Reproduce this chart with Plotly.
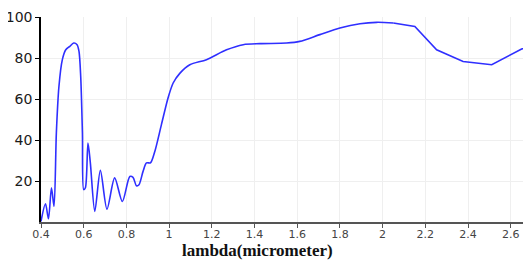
import plotly.graph_objects as go

# wavelength (micrometer) and transmission values
wl_smooth = [0.400, 0.421, 0.435, 0.449, 0.461, 0.472, 0.484, 0.500, 0.516, 0.535,
             0.553, 0.569, 0.578, 0.586, 0.594, 0.600, 0.608, 0.620, 0.631, 0.652,
             0.678, 0.709, 0.745, 0.781, 0.816, 0.831, 0.847, 0.859, 0.878, 0.894,
             0.913, 0.933, 0.964, 0.995, 1.019, 1.050, 1.097, 1.175, 1.269, 1.347,
             1.425, 1.550, 1.612, 1.706, 1.800, 1.894, 1.972, 2.050]
val_smooth = [0.3, 8.9, 1.6, 16.7, 7.6, 43.6, 66.1, 79.2, 84.0, 85.7,
              87.3, 86.5, 83.2, 71.0, 43.6, 15.8, 16.7, 38.5, 29.0, 5.2,
              25.2, 6.3, 21.5, 10.0, 22.2, 21.8, 17.7, 18.2, 24.7, 28.8,
              28.9, 34.4, 47.5, 60.5, 67.8, 72.5, 76.7, 79.2, 84.0, 86.5,
              87.0, 87.3, 88.1, 91.4, 94.6, 96.7, 97.4, 97.1]

wl_linear = [2.050, 2.151, 2.253, 2.377, 2.511, 2.651, 2.700]
val_linear = [97.1, 95.4, 84.0, 78.3, 76.7, 84.4, 85.6]

x_ticks = [0.4, 0.6, 0.8, 1.0, 1.2, 1.4, 1.6, 1.8, 2.0, 2.2, 2.4, 2.6]
x_tick_text = ["0.4", "0.6", "0.8", "1", "1.2", "1.4", "1.6", "1.8", "2", "2.2", "2.4", "2.6"]
y_ticks = [20, 40, 60, 80, 100]

line_color = "#2f2fff"

fig = go.Figure()
fig.add_trace(go.Scatter(x=wl_smooth, y=val_smooth, mode="lines",
                         line=dict(color=line_color, width=1.6, shape="spline", smoothing=0.8),
                         showlegend=False, hoverinfo="skip"))
fig.add_trace(go.Scatter(x=wl_linear, y=val_linear, mode="lines",
                         line=dict(color=line_color, width=1.6),
                         showlegend=False, hoverinfo="skip"))

# the page body has an 8px margin, so the figure is sized to fit the window
fig.update_layout(
    width=523, height=252,
    margin=dict(l=33, r=0, t=9, b=38, autoexpand=False),
    paper_bgcolor="white", plot_bgcolor="white",
    xaxis=dict(range=[0.4, 2.695], tickvals=x_ticks, ticktext=x_tick_text,
               automargin=False,
               showgrid=True, gridcolor="#efefef", gridwidth=1,
               showline=True, linecolor="#555555", linewidth=1.5,
               ticks="outside", ticklen=4, tickcolor="#555555",
               ticklabelstandoff=-3,
               tickfont=dict(family="DejaVu Sans", size=11, color="#444444"),
               zeroline=False),
    yaxis=dict(range=[0, 100], tickvals=y_ticks,
               automargin=False,
               showgrid=True, gridcolor="#efefef", gridwidth=1,
               showline=True, linecolor="#000000", linewidth=1.5,
               ticks="outside", ticklen=4, tickcolor="#000000",
               tickfont=dict(family="DejaVu Sans", size=14, color="#1a1a1a"),
               zeroline=False),
    annotations=[dict(text="<b>lambda(micrometer)</b>", xref="paper", yref="paper",
                      x=0.441, y=-0.14, xanchor="center", yanchor="middle",
                      showarrow=False,
                      font=dict(family="Liberation Serif", size=17, color="#111111"))],
)

fig.write_html("out.html")
